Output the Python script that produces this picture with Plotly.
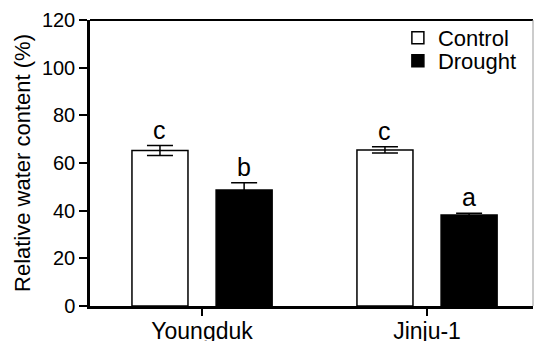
import plotly.graph_objects as go

cultivars = ["Youngduk", "Jinju-1"]
control_mean = [65.2, 65.5]
control_err = [2.1, 1.3]
drought_mean = [48.7, 38.2]
drought_err = [3.0, 0.7]
control_letters = ["c", "c"]
drought_letters = ["b", "a"]
y_ticks = [0, 20, 40, 60, 80, 100, 120]

FONT = "Liberation Sans, Arial, sans-serif"
W = 0.249
OFF_C = -0.187
OFF_D = 0.187

fig = go.Figure()
fig.add_trace(go.Bar(
    name="Control", x=cultivars, y=control_mean, width=W, offset=OFF_C - W / 2,
    marker=dict(color="white", line=dict(color="black", width=1.5)),
    error_y=dict(type="data", array=control_err, color="black", thickness=1.5, width=13),
    legend="legend",
))
fig.add_trace(go.Bar(
    name="Drought", x=cultivars, y=drought_mean, width=W, offset=OFF_D - W / 2,
    marker=dict(color="black", line=dict(color="black", width=1.5)),
    error_y=dict(type="data", array=drought_err, color="black", thickness=1.5, width=13),
    legend="legend2",
))

annotations = []
for i in range(len(cultivars)):
    annotations.append(dict(x=i + OFF_C, y=control_mean[i] + control_err[i], text=control_letters[i],
                            showarrow=False, yanchor="bottom", yshift=0,
                            font=dict(size=25, color="black", family=FONT)))
    annotations.append(dict(x=i + OFF_D, y=drought_mean[i] + drought_err[i], text=drought_letters[i],
                            showarrow=False, yanchor="bottom", yshift=0,
                            font=dict(size=25, color="black", family=FONT)))

legend_style = dict(xanchor="left", yanchor="middle", bgcolor="rgba(0,0,0,0)",
                    font=dict(size=22, family=FONT), borderwidth=0)

fig.update_layout(
    width=538, height=341,
    margin=dict(l=90, r=5, t=20, b=35),
    paper_bgcolor="white", plot_bgcolor="white",
    font=dict(family=FONT, color="black"),
    barmode="group",
    showlegend=True,
    legend=dict(x=0.695, y=(341 - 38 - 35) / 286, yref="paper", **legend_style),
    legend2=dict(x=0.695, y=(341 - 61 - 35) / 286, yref="paper", **legend_style),
    annotations=annotations,
    xaxis=dict(
        range=[-0.498, 1.471], showline=True, linecolor="black", linewidth=2.5,
        ticks="outside", ticklen=7, tickwidth=2, tickcolor="black",
        tickfont=dict(size=23, family=FONT), showgrid=False, zeroline=False,
        ticklabelstandoff=-4, automargin=False,
    ),
    yaxis=dict(
        range=[0, 120], tickvals=y_ticks, showline=True, linecolor="black", linewidth=2.5,
        ticks="outside", ticklen=8, tickwidth=2, tickcolor="black",
        tickfont=dict(size=20, family=FONT), showgrid=False, zeroline=False,
        automargin=False,
        title=dict(text="Relative water content (%)", font=dict(size=22, family=FONT), standoff=6),
    ),
    shapes=[
        dict(type="line", xref="paper", yref="paper", x0=0, x1=1, y0=1, y1=1,
             line=dict(color="black", width=2)),
        dict(type="line", xref="paper", yref="paper", x0=1, x1=1, y0=0, y1=1,
             line=dict(color="#999999", width=1)),
    ],
)

fig.write_html("out.html", config={"displayModeBar": False},
               post_script="document.body.style.margin='0';")
